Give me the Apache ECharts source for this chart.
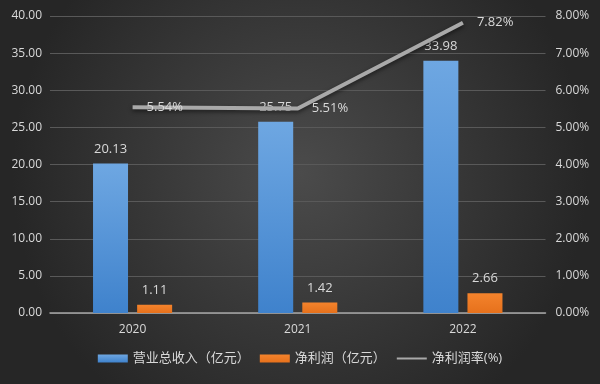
<!DOCTYPE html>
<html><head><meta charset="utf-8">
<script src="https://cdn.jsdelivr.net/npm/echarts@6/dist/echarts.min.js"></script>
<style>html,body{margin:0;padding:0;}#c{width:600px;height:384px;}</style>
</head><body><div id="c"></div>
<script>
const categories = ['2020', '2021', '2022'];
const revenue = [20.13, 25.75, 33.98];
const netProfit = [1.11, 1.42, 2.66];
const netMargin = [5.54, 5.51, 7.82];
const leftTicks = {min: 0, max: 40, interval: 5};
const rightTicks = {min: 0, max: 8, interval: 1};

const font = 'Open Sans, Noto Sans CJK SC, sans-serif';
const txt = '#d9d9d9';
const chart = echarts.init(document.getElementById('c'));
chart.setOption({
  backgroundColor: {
    type: 'radial', x: 0.5, y: 0.45, r: 0.75,
    colorStops: [{offset: 0, color: '#4b4b4b'}, {offset: 1, color: '#262626'}]
  },
  textStyle: {fontFamily: font},
  grid: {left: 50, right: 54.5, top: 16, bottom: 71},
  legend: {
    bottom: 14, left: 'center', itemWidth: 30, itemHeight: 8, itemGap: 10,
    textStyle: {color: txt, fontSize: 13, fontFamily: font},
    data: [
      {name: '营业总收入（亿元）', icon: 'rect'},
      {name: '净利润（亿元）', icon: 'rect'},
      {name: '净利润率(%)', itemStyle: {opacity: 0}}
    ]
  },
  xAxis: {
    type: 'category', data: categories,
    axisLine: {lineStyle: {color: '#a6a6a6', width: 1.5}},
    axisTick: {show: false},
    axisLabel: {color: txt, fontSize: 12, margin: 11, fontFamily: font}
  },
  yAxis: [
    {
      type: 'value', min: leftTicks.min, max: leftTicks.max, interval: leftTicks.interval,
      axisLine: {show: false}, axisTick: {show: false},
      splitLine: {lineStyle: {color: '#595959', width: 1}},
      axisLabel: {color: txt, fontSize: 12, margin: 8, formatter: v => v.toFixed(2), fontFamily: font}
    },
    {
      type: 'value', min: rightTicks.min, max: rightTicks.max, interval: rightTicks.interval,
      axisLine: {show: false}, axisTick: {show: false}, splitLine: {show: false},
      axisLabel: {color: txt, fontSize: 12, margin: 10, formatter: v => v.toFixed(2) + '%', fontFamily: font}
    }
  ],
  series: [
    {
      name: '营业总收入（亿元）', type: 'bar', data: revenue, barWidth: 35, barGap: '26%',
      itemStyle: {color: {type: 'linear', x: 0, y: 0, x2: 0, y2: 1,
        colorStops: [{offset: 0, color: '#6ea7e2'}, {offset: 1, color: '#3f82cc'}]}},
      label: {show: true, position: 'top', distance: 8, color: txt, fontSize: 13, formatter: p => p.value.toFixed(2)}
    },
    {
      name: '净利润（亿元）', type: 'bar', data: netProfit, barWidth: 35,
      itemStyle: {color: {type: 'linear', x: 0, y: 0, x2: 0, y2: 1,
        colorStops: [{offset: 0, color: '#f4832c'}, {offset: 1, color: '#e6711c'}]}},
      label: {show: true, position: 'top', distance: 8, color: txt, fontSize: 13, formatter: p => p.value.toFixed(2)}
    },
    {
      name: '净利润率(%)', type: 'line', yAxisIndex: 1, data: netMargin,
      symbol: 'circle', symbolSize: 0, showSymbol: true,
      lineStyle: {color: '#a9a9a9', width: 4, shadowColor: 'rgba(0,0,0,0.55)', shadowBlur: 4, shadowOffsetY: 2},
      itemStyle: {color: '#a9a9a9'},
      label: {show: true, position: 'right', distance: 14, color: txt, fontSize: 13, formatter: p => p.value.toFixed(2) + '%'},
      z: 5
    }
  ]
});
</script></body></html>
